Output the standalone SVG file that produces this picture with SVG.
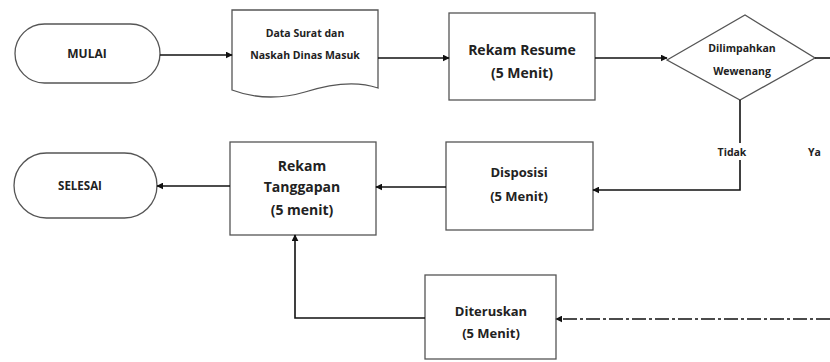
<svg xmlns="http://www.w3.org/2000/svg" width="830" height="362" viewBox="0 0 830 362">
<defs>
<marker id="ah" viewBox="0 0 10 10" refX="9" refY="5" markerWidth="7" markerHeight="7" markerUnits="userSpaceOnUse" orient="auto">
<path d="M0,0 L10,5 L0,10 Z" fill="#111"/>
</marker>
<style>
.shape{fill:#fff;stroke:#555;stroke-width:1.3}
.t{font-family:"Open Sans","Liberation Sans",sans-serif;font-weight:bold;fill:#222;text-anchor:middle}
.c{fill:none;stroke:#111;stroke-width:1.6}
</style>
</defs>
<rect width="830" height="362" fill="#fff"/>
<g id="mulai">
<rect class="shape" x="15" y="24" width="145" height="59" rx="29.5"/>
<text class="t" x="87" y="58" font-size="12">MULAI</text>
</g>
<g id="data-surat">
<path class="shape" d="M232,10 H378 V88 C355,80 330,84 305,92 C285,98 258,100 232,90 Z"/>
<text class="t" x="305" y="37" font-size="10.5">Data Surat dan</text>
<text class="t" x="305" y="59" font-size="10.5">Naskah Dinas Masuk</text>
</g>
<g id="rekam-resume">
<rect class="shape" x="449" y="13" width="146" height="87"/>
<text class="t" x="522" y="55" font-size="14">Rekam Resume</text>
<text class="t" x="522" y="78" font-size="14">(5 Menit)</text>
</g>
<g id="dilimpahkan">
<path class="shape" d="M667,60 L745,15 L815,58 L740,100 Z"/>
<text class="t" x="742" y="52" font-size="10.5">Dilimpahkan</text>
<text class="t" x="742" y="75" font-size="10.5" fill="#444">Wewenang</text>
</g>
<g id="disposisi">
<rect class="shape" x="446" y="142" width="147" height="88"/>
<text class="t" x="519" y="177" font-size="13">Disposisi</text>
<text class="t" x="519" y="201" font-size="13">(5 Menit)</text>
</g>
<g id="rekam-tanggapan">
<rect class="shape" x="230" y="142" width="146" height="93"/>
<text class="t" x="302" y="171" font-size="14">Rekam</text>
<text class="t" x="302" y="192" font-size="14">Tanggapan</text>
<text class="t" x="302" y="215" font-size="14">(5 menit)</text>
</g>
<g id="selesai">
<rect class="shape" x="14" y="153" width="143" height="65" rx="32.5"/>
<text class="t" x="80" y="190" font-size="11.5">SELESAI</text>
</g>
<g id="diteruskan">
<rect class="shape" x="425" y="275" width="131" height="84"/>
<text class="t" x="491" y="316" font-size="13">Diteruskan</text>
<text class="t" x="491" y="338" font-size="13">(5 Menit)</text>
</g>
<g id="labels">
<text class="t" x="732" y="156" font-size="10.5">Tidak</text>
<text class="t" x="808" y="156" font-size="10.5" style="text-anchor:start">Ya</text>
</g>
<g id="connectors">
<path class="c" d="M160,55 H232" marker-end="url(#ah)"/>
<path class="c" d="M378,58 H449" marker-end="url(#ah)"/>
<path class="c" d="M595,58 H667" marker-end="url(#ah)"/>
<path class="c" d="M815,58 H830"/>
<path class="c" d="M740,100 V143"/>
<path class="c" d="M740,160 V190 H593" marker-end="url(#ah)"/>
<path class="c" d="M446,187 H376" marker-end="url(#ah)"/>
<path class="c" d="M230,186 H157" marker-end="url(#ah)"/>
<path class="c" d="M425,318 H295 V235" marker-end="url(#ah)"/>
<path class="c" d="M830,319 H556" stroke-dasharray="14,3,3,3" marker-end="url(#ah)"/>
</g>
</svg>
